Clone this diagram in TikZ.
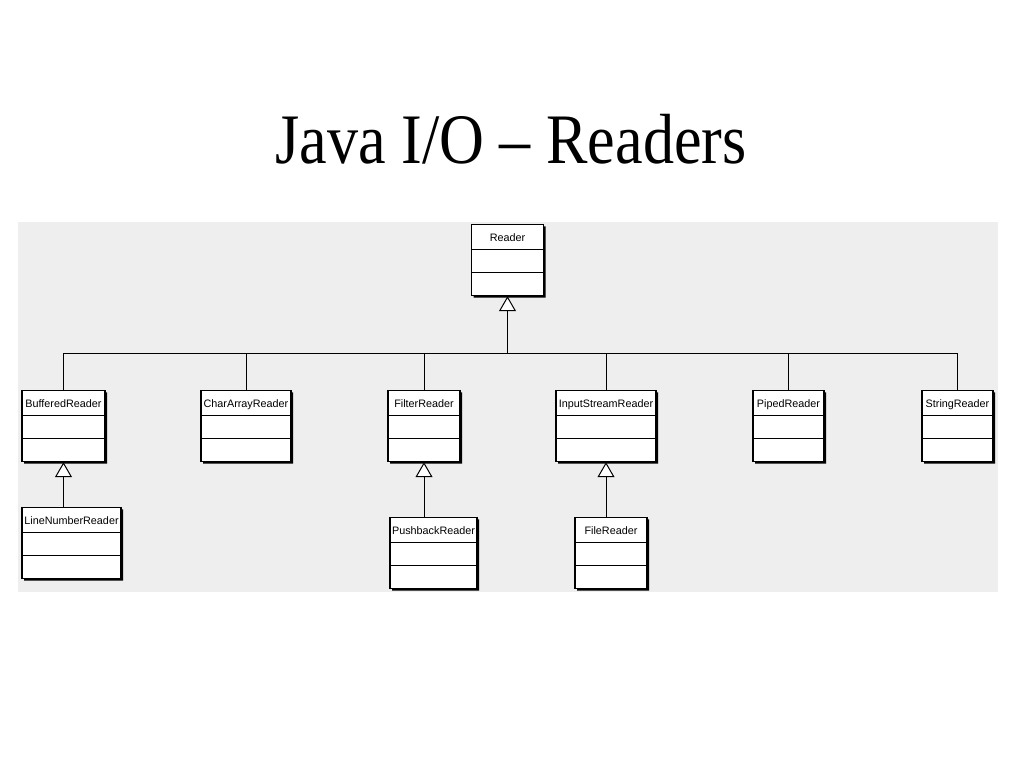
\documentclass[tikz,border=0pt]{standalone}
\usepackage{fontspec}
\setmainfont{Liberation Serif}
\setsansfont{Liberation Sans}
\usetikzlibrary{shapes.multipart,arrows.meta,shadows}
\definecolor{panelgray}{RGB}{238,238,238}
\tikzstyle{classbox}=[draw,fill=white,rectangle split,rectangle split parts=3,inner xsep=1pt,inner ysep=0pt,line width=1.1pt,font=\sffamily\fontsize{10.8}{12}\selectfont,drop shadow={shadow xshift=2pt,shadow yshift=-2pt,fill=black,opacity=1}]
\tikzstyle{inherit}=[-{Triangle[length=15pt,width=17pt,fill=white]},line width=1pt]
\newcommand{\umlname}[1]{\rule[-7pt]{0pt}{24pt}#1\nodepart{second}\rule{0pt}{22pt}\nodepart{third}\rule{0pt}{22pt}}

\begin{document}
\begin{tikzpicture}[x=1pt,y=-1pt]
\useasboundingbox (0,0) rectangle (1024,768);
\fill[panelgray] (18,222) rectangle (998,592);
\node[anchor=base,font=\fontsize{71}{78}\selectfont] (title) at (511,163) {\scalebox{0.875}[1]{Java I/O – Readers}};
% top class
\draw (507.5,260) node [classbox,minimum width=72pt] (reader) {\umlname{Reader}};
% direct subclasses
\draw (63.5,426) node [classbox,minimum width=83pt] (buffered) {\umlname{BufferedReader}};
\draw (246,426) node [classbox,minimum width=90pt] (chararray) {\umlname{CharArrayReader}};
\draw (424,426) node [classbox,minimum width=72pt] (filter) {\umlname{FilterReader}};
\draw (606,426) node [classbox,minimum width=100pt] (inputstream) {\umlname{InputStreamReader}};
\draw (788.5,426) node [classbox,minimum width=71pt] (piped) {\umlname{PipedReader}};
\draw (957.5,426) node [classbox,minimum width=71pt] (string) {\umlname{StringReader}};
% second level
\draw (71.5,543) node [classbox,minimum width=99pt] (linenumber) {\umlname{LineNumberReader}};
\draw (433.5,553) node [classbox,minimum width=87pt] (pushback) {\umlname{PushbackReader}};
\draw (611,553) node [classbox,minimum width=72pt] (file) {\umlname{FileReader}};
\coordinate (bus) at (507.5,353);
\draw[inherit] (bus) -- (reader);
\draw[line width=1pt] (buffered.north) |- (string.north |- bus) -- (string.north);
\foreach \n in {chararray,filter,inputstream,piped}
  \draw[line width=1pt] (\n.north) -- (\n.north |- bus);
\draw[inherit] (buffered |- linenumber.north) -- (buffered);
\draw[inherit] (filter |- pushback.north) -- (filter);
\draw[inherit] (inputstream |- file.north) -- (inputstream);
\end{tikzpicture}
\end{document}
